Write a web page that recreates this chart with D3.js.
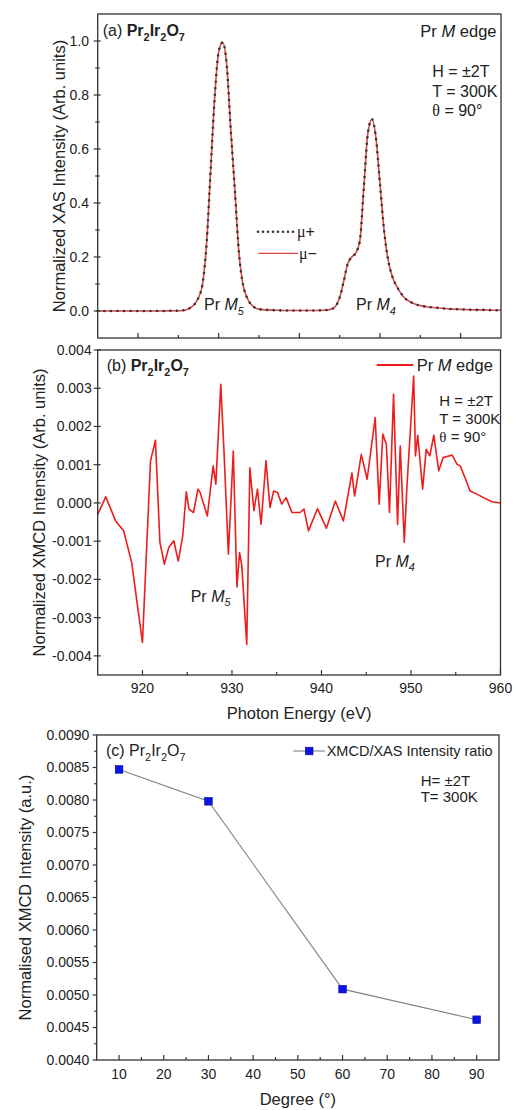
<!DOCTYPE html>
<html><head><meta charset="utf-8">
<script src="https://cdn.jsdelivr.net/npm/d3@7"></script>
<style>
html,body{margin:0;padding:0;background:#fff;}
svg{display:block;font-family:"Liberation Sans",Arial,sans-serif;}
</style></head>
<body>
<svg id="chart" width="514" height="1110"></svg>
<script>
// ---------- DATA ----------
// (a) XAS spectra
const xasEnergy = [915,916,917,918,919,920,921,922,923,924,925,925.5,926,926.5,927,927.5,928,928.5,929,929.5,930,930.5,931,931.5,932,932.5,933,933.5,934,934.5,935,936,937,938,939,940,941,942,943,943.5,944,944.5,945,945.5,946,946.5,947,947.5,948,948.5,949,949.5,950,950.5,951,951.5,952,952.5,953,953.5,954,954.5,955,956,957,958,959,960,961,962,963,964,965];
const xasMuPlus = [0,0,0,0,0,0,0,0,0,0.001,0.001,0.002,0.005,0.012,0.025,0.05,0.10,0.25,0.52,0.79,0.96,0.995,0.91,0.67,0.45,0.22,0.10,0.05,0.025,0.012,0.007,0.004,0.003,0.002,0.002,0.002,0.002,0.002,0.003,0.004,0.007,0.018,0.05,0.11,0.175,0.20,0.215,0.26,0.46,0.66,0.71,0.64,0.47,0.30,0.19,0.13,0.095,0.07,0.05,0.038,0.03,0.024,0.02,0.015,0.012,0.009,0.007,0.006,0.005,0.004,0.004,0.003,0.003];
const xasMuMinus = [0,0,0,0,0,0,0,0,0,0.001,0.001,0.002,0.005,0.012,0.025,0.05,0.10,0.25,0.52,0.79,0.96,0.995,0.91,0.67,0.45,0.22,0.10,0.05,0.025,0.012,0.007,0.004,0.003,0.002,0.002,0.002,0.002,0.002,0.003,0.004,0.007,0.018,0.05,0.11,0.175,0.20,0.215,0.26,0.46,0.66,0.71,0.64,0.47,0.30,0.19,0.13,0.095,0.07,0.05,0.038,0.03,0.024,0.02,0.015,0.012,0.009,0.007,0.006,0.005,0.004,0.004,0.003,0.003];

// (b) XMCD spectrum
const xmcdEnergy = [915.0,915.9,917.0,917.9,918.8,920.0,920.9,921.45,921.95,922.45,922.95,923.5,924.0,924.5,924.9,925.2,925.7,926.2,926.45,926.8,927.25,927.9,928.2,928.75,929.1,929.6,930.15,930.55,930.85,931.1,931.65,932.0,932.45,932.85,933.25,933.8,934.25,934.65,935.1,935.55,936.05,936.7,937.6,938.05,938.55,939.55,940.55,941.55,942.45,943.4,943.7,944.45,945.1,946.0,946.45,946.85,947.25,947.6,948.05,948.5,948.8,949.25,949.55,950.3,950.5,950.75,951.3,951.7,952.1,952.55,953.1,953.6,954.6,955.15,955.5,956.1,956.6,957.2,958.1,959.05,960.0];
const xmcdValue = [-0.0003,0.00016,-0.00047,-0.00073,-0.00156,-0.00365,0.0011,0.00164,-0.00103,-0.0016,-0.00116,-0.00099,-0.00152,-0.00086,0.00029,-0.00016,-0.00025,0.00036,0.00027,0.0,-0.00034,0.00097,0.00049,0.0031,0.0014,-0.00134,0.00136,-0.0022,-0.0013,-0.00164,-0.0037,0.00092,-0.0002,0.00036,-0.00056,0.0011,-0.00012,0.00031,0.00027,-0.00003,0.00014,-0.00025,-0.00025,-0.00016,-0.00073,-0.00015,-0.00066,0.00005,-0.00047,0.00078,0.00018,0.00127,0.00062,0.00223,-0.00003,0.0018,0.00153,-0.00025,0.00284,-0.00056,0.00149,-0.00103,0.00044,0.00332,0.00123,0.00177,0.00036,0.0014,0.00123,0.00177,0.00084,0.00119,0.00125,0.00101,0.00097,0.00062,0.00031,0.00025,0.00014,0.00003,0.0];

// (c) XMCD/XAS ratio vs angle
const angleDeg = [10,30,60,90];
const ratioValue = [0.00847,0.00798,0.00509,0.00462];

// tick values
const energyMajorTicks = [920,930,940,950,960];
const energyMinorTicks = [925,935,945,955];
const xasYTicks = [0.0,0.2,0.4,0.6,0.8,1.0];
const xasYMinor = [0.1,0.3,0.5,0.7,0.9];
const xmcdYTicks = [-0.004,-0.003,-0.002,-0.001,0.0,0.001,0.002,0.003,0.004];
const degMajorTicks = [10,20,30,40,50,60,70,80,90];
const degMinorTicks = [15,25,35,45,55,65,75,85];
const ratioYTicks = [0.0040,0.0045,0.0050,0.0055,0.0060,0.0065,0.0070,0.0075,0.0080,0.0085,0.0090];
const ratioYMinor = [0.00425,0.00475,0.00525,0.00575,0.00625,0.00675,0.00725,0.00775,0.00825,0.00875];

// ---------- DRAWING ----------
const svg = d3.select("#chart");
const AX = "#333", TXT = "#222";

const pA = {l:97.7, r:501, t:14, b:338};
const pB = {l:97.7, r:500.5, t:350, b:675};
const pC = {l:96.7, r:499, t:735, b:1060};

const xA = d3.scaleLinear().domain([915,965]).range([pA.l,pA.r]);
const yA = d3.scaleLinear().domain([-0.1,1.1]).range([pA.b,pA.t]);
const xB = d3.scaleLinear().domain([915,960]).range([pB.l,pB.r]);
const yB = d3.scaleLinear().domain([-0.0045,0.004]).range([pB.b,pB.t]);
const xC = d3.scaleLinear().domain([5,95]).range([pC.l,pC.r]);
const yC = d3.scaleLinear().domain([0.004,0.009]).range([pC.b,pC.t]);

function frame(p){
  svg.append("rect").attr("x",p.l).attr("y",p.t).attr("width",p.r-p.l).attr("height",p.b-p.t)
    .attr("fill","none").attr("stroke",AX).attr("stroke-width",1.3);
}
function xTicksInside(p, sx, vals, len){
  svg.append("g").selectAll("line").data(vals).join("line")
    .attr("x1",d=>sx(d)).attr("x2",d=>sx(d)).attr("y1",p.b).attr("y2",p.b-len)
    .attr("stroke",AX).attr("stroke-width",1.2);
}
function yTicks(p, sy, vals, out, inn){
  svg.append("g").selectAll("line").data(vals).join("line")
    .attr("x1",p.l-out).attr("x2",p.l+inn).attr("y1",d=>sy(d)).attr("y2",d=>sy(d))
    .attr("stroke",AX).attr("stroke-width",1.2);
}
function yLabels(sy, vals, x, fmt){
  svg.append("g").selectAll("text").data(vals).join("text")
    .attr("x",x).attr("y",d=>sy(d)).attr("dy","0.35em").attr("text-anchor","end")
    .attr("font-size",14).attr("fill",TXT).text(fmt);
}
function xLabels(sx, vals, y){
  svg.append("g").selectAll("text").data(vals).join("text")
    .attr("x",d=>sx(d)).attr("y",y).attr("text-anchor","middle")
    .attr("font-size",14).attr("fill",TXT).text(d=>d);
}
// rich text: parts = [{t, b, i, sub, serif}]
function rich(x, y, size, parts, anchor){
  const t = svg.append("text").attr("x",x).attr("y",y).attr("font-size",size)
    .attr("fill",TXT).attr("text-anchor",anchor||"start");
  let shifted = false;
  parts.forEach(pt=>{
    const s = t.append("tspan").text(pt.t);
    if(pt.b) s.attr("font-weight","bold");
    if(pt.i) s.attr("font-style","italic");
    if(pt.serif) s.attr("font-family","'Liberation Serif','DejaVu Serif',serif");
    if(pt.sub){
      s.attr("font-size",size*0.68);
      if(!shifted){ s.attr("dy", size*0.3); shifted = true; }
    } else if(shifted){
      s.attr("dy", -size*0.3); shifted = false;
    }
  });
  return t;
}
function yTitle(text, x, cy){
  svg.append("text").attr("transform",`translate(${x},${cy}) rotate(-90)`)
    .attr("text-anchor","middle").attr("font-size",16.5).attr("fill",TXT).text(text);
}
const formula = (prefix, bold) => [
  {t:prefix},{t:"Pr",b:bold},{t:"2",b:bold,sub:true},{t:"Ir",b:bold},{t:"2",b:bold,sub:true},{t:"O",b:bold},{t:"7",b:bold,sub:true}
];

// ===== Panel (a) =====
const lineA = d3.line().x((d,i)=>xA(xasEnergy[i])).y(d=>yA(d)).curve(d3.curveMonotoneX);
svg.append("path").attr("d",lineA(xasMuMinus)).attr("fill","none")
  .attr("stroke","#d84848").attr("stroke-width",1.6);
svg.append("path").attr("d",lineA(xasMuPlus)).attr("fill","none")
  .attr("stroke","#3a3434").attr("stroke-width",2.6).attr("stroke-linecap","round")
  .attr("stroke-dasharray","0 6.6");
frame(pA);
xTicksInside(pA, xA, energyMajorTicks, 5);
xTicksInside(pA, xA, energyMinorTicks, 3);
yTicks(pA, yA, xasYTicks, 4, 3);
yTicks(pA, yA, xasYMinor, 2.5, 2);
yLabels(yA, xasYTicks, 89, d3.format(".1f"));
yTitle("Normalized XAS Intensity (Arb. units)", 65, (pA.t+pA.b)/2);
rich(102.7, 36, 16, formula("(a) ", true));
rich(496.5, 36.5, 16.5, [{t:"Pr "},{t:"M",i:true},{t:" edge"}], "end");
rich(432.3, 76.5, 16, [{t:"H = ±2T"}]);
rich(432.3, 96.5, 16, [{t:"T = 300K"}]);
rich(432.3, 115.5, 16, [{t:"θ",serif:true},{t:" = 90°"}]);
// legend (a)
svg.append("line").attr("x1",258).attr("x2",296).attr("y1",231.7).attr("y2",231.7)
  .attr("stroke","#3a3434").attr("stroke-width",2.6).attr("stroke-linecap","round").attr("stroke-dasharray","0 5");
rich(297, 236.5, 16, [{t:"μ",serif:true},{t:"+"}]);
svg.append("line").attr("x1",258.3).attr("x2",298.3).attr("y1",253.3).attr("y2",253.3)
  .attr("stroke","#d84848").attr("stroke-width",1.3);
rich(299, 258.5, 16, [{t:"μ",serif:true},{t:"−"}]);
rich(204, 310, 16, [{t:"Pr "},{t:"M",i:true},{t:"5",i:true,sub:true}]);
rich(356, 310, 16, [{t:"Pr "},{t:"M",i:true},{t:"4",i:true,sub:true}]);

// ===== Panel (b) =====
const lineB = d3.line().x((d,i)=>xB(xmcdEnergy[i])).y(d=>yB(d));
svg.append("path").attr("d",lineB(xmcdValue)).attr("fill","none")
  .attr("stroke","#ee1c1c").attr("stroke-width",1.6).attr("stroke-linejoin","round");
frame(pB);
xTicksInside(pB, xB, energyMajorTicks, 5);
xTicksInside(pB, xB, energyMinorTicks, 3);
yTicks(pB, yB, xmcdYTicks, 4, 3);
const fmtB = v => (Math.abs(v)<1e-9 ? "0.000" : (v<0 ? "-" + d3.format(".3f")(-v) : d3.format(".3f")(v)));
yLabels(yB, xmcdYTicks, 91.7, fmtB);
xLabels(xB, energyMajorTicks, 693);
svg.append("text").attr("x",(pB.l+pB.r)/2).attr("y",718.5).attr("text-anchor","middle")
  .attr("font-size",16.5).attr("fill",TXT).text("Photon Energy (eV)");
yTitle("Normalized XMCD Intensity (Arb. units)", 45, (pB.t+pB.b)/2);
rich(106.7, 371, 16, formula("(b) ", true));
svg.append("line").attr("x1",376.7).attr("x2",413.3).attr("y1",365).attr("y2",365)
  .attr("stroke","#ee1c1c").attr("stroke-width",1.8);
rich(416.7, 370.5, 16.5, [{t:"Pr "},{t:"M",i:true},{t:" edge"}]);
rich(439.3, 406, 15, [{t:"H = ±2T"}]);
rich(439.3, 424, 15, [{t:"T = 300K"}]);
rich(439.3, 442, 15, [{t:"θ",serif:true},{t:" = 90°"}]);
rich(190.7, 601.5, 16, [{t:"Pr "},{t:"M",i:true},{t:"5",i:true,sub:true}]);
rich(375, 566.5, 16, [{t:"Pr "},{t:"M",i:true},{t:"4",i:true,sub:true}]);

// ===== Panel (c) =====
const lineC = d3.line().x((d,i)=>xC(angleDeg[i])).y(d=>yC(d));
svg.append("path").attr("d",lineC(ratioValue)).attr("fill","none")
  .attr("stroke","#808080").attr("stroke-width",1.1);
svg.append("g").selectAll("rect").data(ratioValue).join("rect")
  .attr("x",(d,i)=>xC(angleDeg[i])-3.8).attr("y",d=>yC(d)-3.8)
  .attr("width",7.6).attr("height",7.6).attr("fill","#0a14e6").attr("stroke","#0a0a90").attr("stroke-width",0.6);
frame(pC);
xTicksInside(pC, xC, degMajorTicks, 5);
xTicksInside(pC, xC, degMinorTicks, 3);
yTicks(pC, yC, ratioYTicks, 4, 0);
yTicks(pC, yC, ratioYMinor, 2.5, 0);
yLabels(yC, ratioYTicks, 89.3, d3.format(".4f"));
xLabels(xC, degMajorTicks, 1079);
svg.append("text").attr("x",(pC.l+pC.r)/2).attr("y",1105).attr("text-anchor","middle")
  .attr("font-size",16.5).attr("fill",TXT).text("Degree (°)");
yTitle("Normalised XMCD Intensity (a.u.)", 31, (pC.t+pC.b)/2);
rich(106, 756, 16, formula("(c) ", false));
svg.append("line").attr("x1",293.3).attr("x2",325).attr("y1",751).attr("y2",751)
  .attr("stroke","#808080").attr("stroke-width",1.1);
svg.append("rect").attr("x",309.2-3.8).attr("y",751-3.8).attr("width",7.6).attr("height",7.6)
  .attr("fill","#0a14e6").attr("stroke","#0a0a90").attr("stroke-width",0.6);
rich(326.7, 756, 14.5, [{t:"XMCD/XAS Intensity ratio"}]);
rich(420.7, 786, 15, [{t:"H= ±2T"}]);
rich(420.7, 801.5, 15, [{t:"T= 300K"}]);
</script>
</body></html>
